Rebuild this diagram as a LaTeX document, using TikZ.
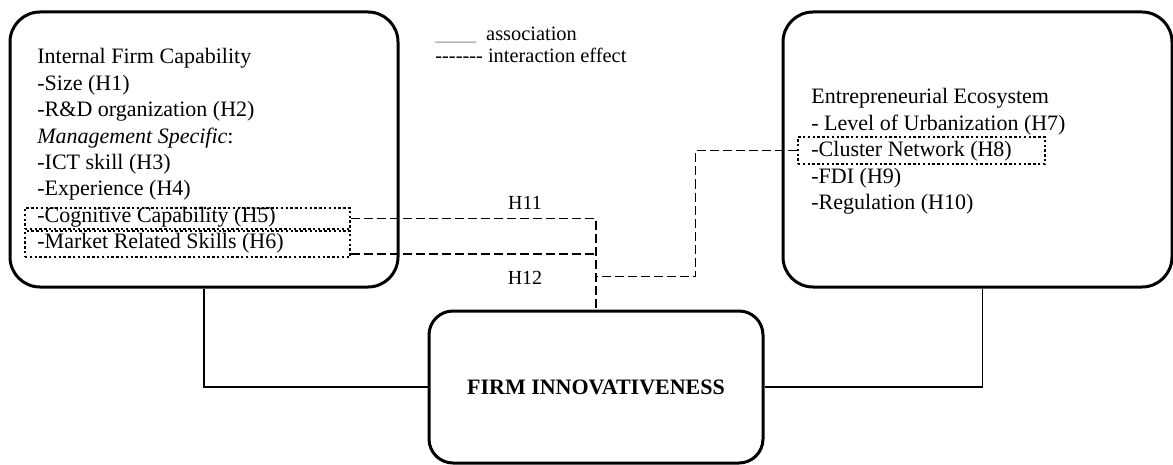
\documentclass[tikz,border=0pt]{standalone}
\usepackage{fontspec}
\setmainfont{Liberation Serif}
\usepackage{xcolor}
\usepackage{tikz}
\usetikzlibrary{positioning,calc}
\newcommand{\hyrule}{-{}-{}-{}-{}-{}-{}-}
\newcommand{\usrule}{\textcolor{black!45}{\_\_\_\_}}

\begin{document}
\begin{tikzpicture}[
  x=0.5pt, y=-0.5pt,
  font=\fontsize{11}{13.2}\selectfont,
  blk/.style={draw, line width=1.5pt, rounded corners=15pt, inner sep=0pt},
  itm/.style={inner sep=0pt, text height=9.4pt, text depth=3.8pt, anchor=north west},
  dotbox/.style={draw, line width=1.3pt, dash pattern=on 1.2pt off 1.2pt, inner sep=0pt,
                 minimum width=162.5pt},
  assoc/.style={line width=0.65pt},
  inter/.style={line width=0.7pt, dash pattern=on 4.5pt off 2pt},
  hyp/.style={font=\fontsize{10}{12}\selectfont, inner sep=1pt},
  leg/.style={font=\fontsize{10.2}{11}\selectfont, inner sep=0pt, anchor=west},
]
\useasboundingbox (0,0) rectangle (1173,465);
% main blocks
\node[blk, minimum width=194pt, minimum height=137.5pt] (ifc) at (204,149.5) {};
\node[blk, minimum width=194.5pt, minimum height=137.5pt] (eco) at (977.5,149.5) {};
\node[blk, rounded corners=12pt, minimum width=167pt, minimum height=76pt] (fi) at (596,387)
  {\textbf{FIRM INNOVATIVENESS}};
% block contents
\foreach \t [count=\i] in {Internal Firm Capability, -Size (H1), -R\&D organization (H2),
    \textit{Management Specific}:, -ICT skill (H3), -Experience (H4),
    -Cognitive Capability (H5), -Market Related Skills (H6)}
  \node[itm] (ifc\i) at (37,{18.4+26.4*\i}) {\t};
\foreach \t [count=\i] in {Entrepreneurial Ecosystem, - Level of Urbanization (H7),
    -Cluster Network (H8), -FDI (H9), -Regulation (H10)}
  \node[itm] (eco\i) at (811,{58.4+26.4*\i}) {\t};
% moderators (dotted)
\node[dotbox, minimum height=10.5pt] (cog) at (187.5,218.5) {};
\node[dotbox, minimum height=13pt] (mkt) at (187.5,244) {};
\node[dotbox, minimum width=123.5pt, minimum height=13.5pt] (clu) at (921.5,150.5) {};
% legend
\node[leg] (leg1) at (435,35) {\usrule\hspace{5pt}association};
\node[leg, below=2pt of leg1.south west, anchor=north west] (leg2) {\hyrule\ interaction effect};
% associations
\draw[assoc] (ifc.south) |- (fi.west);
\draw[assoc] ([xshift=2.5pt]eco.south) |- (fi.east);
% interaction effects
\coordinate (h12) at ([yshift=-5pt]mkt.east);
\draw[inter] (cog.east) -| (fi.north);
\draw[inter] (h12) -- (h12 -| fi.north);
\draw[inter] (clu.west) -- ++(-101,0) |- ([yshift=16.5pt]fi.north);
\node[hyp] (lh11) at (525,203) {H11};
\node[hyp] (lh12) at (525,278) {H12};
\end{tikzpicture}
\end{document}
